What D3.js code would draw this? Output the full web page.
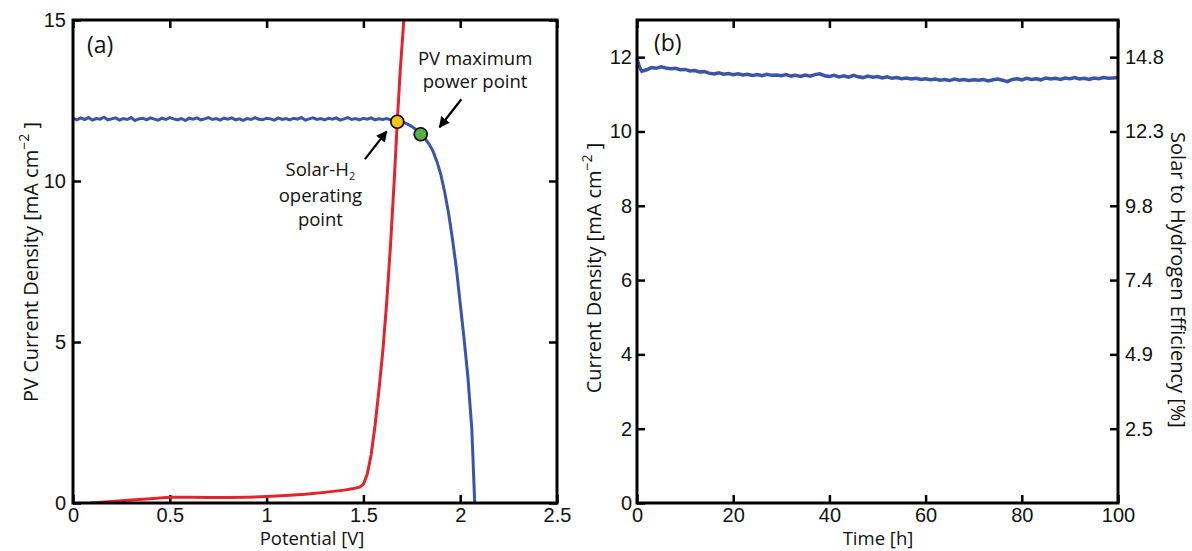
<!DOCTYPE html>
<html>
<head>
<meta charset="utf-8">
<script src="https://cdn.jsdelivr.net/npm/d3@7"></script>
<style>
  body { margin: 0; background: #fff; }
  svg { display: block; font-family: "Open Sans", sans-serif; }
  .tick line { stroke: #000; stroke-width: 2.5; }
  .tick text { font-size: 20px; fill: #111; }
  .domain { display: none; }
</style>
</head>
<body>
<svg id="fig" width="1192" height="551"></svg>
<script>
// (a) PV current density vs potential
const pvPotential = [
  0.00,0.02,0.04,0.06,0.08,0.10,0.12,0.14,0.16,0.18,
  0.20,0.22,0.24,0.26,0.28,0.30,0.32,0.34,0.36,0.38,
  0.40,0.42,0.44,0.46,0.48,0.50,0.52,0.54,0.56,0.58,
  0.60,0.62,0.64,0.66,0.68,0.70,0.72,0.74,0.76,0.78,
  0.80,0.82,0.84,0.86,0.88,0.90,0.92,0.94,0.96,0.98,
  1.00,1.02,1.04,1.06,1.08,1.10,1.12,1.14,1.16,1.18,
  1.20,1.22,1.24,1.26,1.28,1.30,1.32,1.34,1.36,1.38,
  1.40,1.42,1.44,1.46,1.48,1.50,1.52,1.54,1.56,1.58,
  1.60,1.62,1.64,1.66,1.68,1.70,1.72,1.74,1.76,1.78,
  1.80,1.82,1.84,1.86,1.88,1.90,1.92,1.94,1.96,1.98,
  2.00,2.02,2.04,2.06,2.075
];
const pvCurrent = [
  11.95,11.90,11.96,11.91,11.97,11.89,11.94,11.92,11.98,11.90,
  11.93,11.96,11.89,11.94,11.91,11.97,11.88,11.93,11.95,11.90,
  11.96,11.92,11.89,11.95,11.91,11.97,11.93,11.90,11.94,11.88,
  11.95,11.92,11.96,11.90,11.93,11.97,11.91,11.94,11.89,11.95,
  11.92,11.96,11.90,11.93,11.88,11.94,11.91,11.97,11.92,11.90,
  11.95,11.93,11.89,11.96,11.91,11.94,11.90,11.95,11.92,11.97,
  11.89,11.93,11.96,11.91,11.94,11.90,11.95,11.92,11.96,11.89,
  11.93,11.97,11.91,11.94,11.90,11.95,11.92,11.96,11.90,11.93,
  11.91,11.94,11.90,11.92,11.87,11.84,11.79,11.73,11.65,11.56,
  11.45,11.31,11.14,10.92,10.60,10.20,9.65,9.00,8.20,7.30,
  6.20,5.10,3.90,2.30,0.00
];
// electrolyzer load curve
const ecPotential = [0.09,0.20,0.30,0.40,0.50,0.60,0.70,0.80,0.90,1.00,1.10,1.20,1.30,1.40,1.45,1.48,1.50,1.52,1.54,1.56,1.58,1.60,1.62,1.64,1.66,1.675,1.69,1.71];
const ecCurrent   = [0.00,0.05,0.09,0.13,0.18,0.18,0.17,0.17,0.18,0.20,0.23,0.27,0.33,0.40,0.45,0.49,0.58,0.90,1.50,2.40,3.50,4.70,6.20,8.00,10.10,11.84,13.40,15.10];
const operatingPoint = { v: 1.675, j: 11.84 };
const maxPowerPoint  = { v: 1.796, j: 11.45 };
const xTicksA = [0, 0.5, 1, 1.5, 2, 2.5];
const yTicksA = [0, 5, 10, 15];

// (b) stability test
const timeH = [
  0,0.5,1,2,3,4,5,6,7,8,9,10,11,12,13,14,15,16,17,18,19,20,
  21,22,23,24,25,26,27,28,29,30,31,32,33,34,35,36,37,38,39,40,
  41,42,43,44,45,46,47,48,49,50,51,52,53,54,55,56,57,58,59,60,
  61,62,63,64,65,66,67,68,69,70,71,72,73,74,75,76,77,78,79,80,
  81,82,83,84,85,86,87,88,89,90,91,92,93,94,95,96,97,98,99,100
];
const stabilityCurrent = [
  11.95,11.74,11.62,11.66,11.72,11.70,11.74,11.71,11.69,11.70,11.66,11.67,11.63,11.64,11.60,11.61,11.57,11.55,11.58,11.54,11.56,11.53,
  11.55,11.52,11.54,11.51,11.53,11.50,11.54,11.51,11.52,11.50,11.53,11.49,11.51,11.48,11.52,11.49,11.53,11.55,11.50,11.48,
  11.51,11.47,11.50,11.46,11.51,11.47,11.45,11.49,11.46,11.48,11.44,11.47,11.43,11.45,11.42,11.44,11.41,11.43,11.40,11.42,
  11.39,11.41,11.38,11.40,11.37,11.41,11.38,11.40,11.37,11.39,11.38,11.40,11.36,11.39,11.41,11.38,11.34,11.40,11.42,11.39,
  11.43,11.40,11.42,11.39,11.44,11.41,11.43,11.40,11.44,11.42,11.45,11.41,11.43,11.40,11.44,11.42,11.45,11.43,11.44,11.45
];
const xTicksB = [0, 20, 40, 60, 80, 100];
const yTicksB = [0, 2, 4, 6, 8, 10, 12];
const effTickValues = [2, 4, 6, 8, 10, 12];
const effTickLabels = ["2.5", "4.9", "7.4", "9.8", "12.3", "14.8"];

const blue = "#3a55a6", red = "#e5232a";
const svg = d3.select("#fig");
const plotTop = 20, plotBottom = 503;

function frame(g, x0, x1) {
  g.append("rect").attr("x", x0).attr("y", plotTop)
    .attr("width", x1 - x0).attr("height", plotBottom - plotTop)
    .attr("fill", "none").attr("stroke", "#000").attr("stroke-width", 3);
}

// ---------- panel (a) ----------
const xa = d3.scaleLinear().domain([0, 2.5]).range([73, 557]);
const ya = d3.scaleLinear().domain([0, 15]).range([plotBottom, plotTop]);
const ga = svg.append("g");

ga.append("clipPath").attr("id", "clipA").append("rect")
  .attr("x", 73).attr("y", plotTop).attr("width", 557 - 73).attr("height", plotBottom - plotTop);

ga.append("g").attr("transform", `translate(0,${plotBottom})`)
  .call(d3.axisBottom(xa).tickValues(xTicksA).tickSize(-8).tickPadding(5).tickFormat(d3.format("")));
ga.append("g").attr("transform", `translate(0,${plotTop})`)
  .call(d3.axisTop(xa).tickValues(xTicksA).tickSize(-8).tickFormat(""));
ga.append("g").attr("transform", "translate(73,0)")
  .call(d3.axisLeft(ya).tickValues(yTicksA).tickSize(-8).tickPadding(7));
ga.append("g").attr("transform", "translate(557,0)")
  .call(d3.axisRight(ya).tickValues(yTicksA).tickSize(-8).tickFormat(""));

const lineA = d3.line().x(d => xa(d[0])).y(d => ya(d[1]));
ga.append("path").datum(d3.zip(pvPotential, pvCurrent))
  .attr("clip-path", "url(#clipA)")
  .attr("d", lineA).attr("fill", "none").attr("stroke", blue).attr("stroke-width", 3);
ga.append("path").datum(d3.zip(ecPotential, ecCurrent))
  .attr("clip-path", "url(#clipA)")
  .attr("d", lineA).attr("fill", "none").attr("stroke", red).attr("stroke-width", 3);
frame(ga, 73, 557);

// arrows
const defs = svg.append("defs");
defs.append("marker").attr("id", "arrow").attr("viewBox", "0 0 10 10")
  .attr("refX", 9).attr("refY", 5).attr("markerWidth", 5).attr("markerHeight", 5)
  .attr("orient", "auto")
  .append("path").attr("d", "M0,0 L10,5 L0,10 Z").attr("fill", "#000");
const arrows = [
  { from: [1.508, 10.68], to: [1.620, 11.54] },
  { from: [2.006, 12.54], to: [1.893, 11.67] }
];
ga.selectAll("line.arrow").data(arrows).join("line").attr("class", "arrow")
  .attr("x1", d => xa(d.from[0])).attr("y1", d => ya(d.from[1]))
  .attr("x2", d => xa(d.to[0])).attr("y2", d => ya(d.to[1]))
  .attr("stroke", "#000").attr("stroke-width", 2.2).attr("marker-end", "url(#arrow)");

ga.selectAll("circle.pt").data([
  { p: operatingPoint, fill: "#f8c514" },
  { p: maxPowerPoint, fill: "#55b144" }
]).join("circle").attr("class", "pt")
  .attr("cx", d => xa(d.p.v)).attr("cy", d => ya(d.p.j)).attr("r", 6.5)
  .attr("fill", d => d.fill).attr("stroke", "#000").attr("stroke-width", 1.6);

const noteStyle = t => t.attr("text-anchor", "middle").attr("font-size", 18.5).attr("fill", "#111");
ga.append("text").attr("x", xa(2.077)).attr("y", ya(13.6)).text("PV maximum").call(noteStyle);
ga.append("text").attr("x", xa(2.077)).attr("y", ya(12.88)).text("power point").call(noteStyle);
const sh = ga.append("text").attr("x", xa(1.278)).attr("y", ya(10.14)).call(noteStyle);
sh.append("tspan").text("Solar-H");
sh.append("tspan").attr("font-size", 11).attr("dy", 4).text("2");
ga.append("text").attr("x", xa(1.278)).attr("y", ya(9.34)).text("operating").call(noteStyle);
ga.append("text").attr("x", xa(1.278)).attr("y", ya(8.6)).text("point").call(noteStyle);

ga.append("text").attr("x", 87).attr("y", 53).attr("font-size", 23).attr("fill", "#111").text("(a)");

// ---------- panel (b) ----------
const xb = d3.scaleLinear().domain([0, 100]).range([637, 1118]);
const yb = d3.scaleLinear().domain([0, 13]).range([plotBottom, plotTop]);
const gb = svg.append("g");

gb.append("g").attr("transform", `translate(0,${plotBottom})`)
  .call(d3.axisBottom(xb).tickValues(xTicksB).tickSize(-8).tickPadding(5));
gb.append("g").attr("transform", `translate(0,${plotTop})`)
  .call(d3.axisTop(xb).tickValues(xTicksB).tickSize(-8).tickFormat(""));
gb.append("g").attr("transform", "translate(637,0)")
  .call(d3.axisLeft(yb).tickValues(yTicksB).tickSize(-8).tickPadding(5));
gb.append("g").attr("transform", "translate(1118,0)")
  .call(d3.axisRight(yb).tickValues(effTickValues).tickSize(-8).tickPadding(7)
    .tickFormat((d, i) => effTickLabels[i]));

gb.append("path").datum(d3.zip(timeH, stabilityCurrent))
  .attr("d", d3.line().x(d => xb(d[0])).y(d => yb(d[1])))
  .attr("fill", "none").attr("stroke", blue).attr("stroke-width", 3.5);
frame(gb, 637, 1118);
gb.append("text").attr("x", 654).attr("y", 51).attr("font-size", 23).attr("fill", "#111").text("(b)");

// ---------- axis titles ----------
function unitLabel(sel, prefix) {
  sel.append("tspan").text(prefix + " [mA cm");
  sel.append("tspan").attr("dy", -9).attr("font-size", 14).text("\u22122");
  sel.append("tspan").attr("dy", 9).text(" ]");
}
const title = sel => sel.attr("font-size", 20).attr("fill", "#111").attr("text-anchor", "middle");
svg.append("text").attr("transform", "translate(38,262) rotate(-90)").call(title).call(unitLabel, "PV Current Density");
svg.append("text").attr("transform", "translate(601,268) rotate(-90)").call(title).call(unitLabel, "Current Density");
svg.append("text").attr("transform", "translate(1171,280) rotate(90)").call(title).text("Solar to Hydrogen Efficiency [%]");
svg.append("text").attr("x", 312).attr("y", 545).call(title).attr("font-size", 18.5).text("Potential [V]");
svg.append("text").attr("x", 878).attr("y", 545).call(title).attr("font-size", 18.5).text("Time [h]");
</script>
</body>
</html>
